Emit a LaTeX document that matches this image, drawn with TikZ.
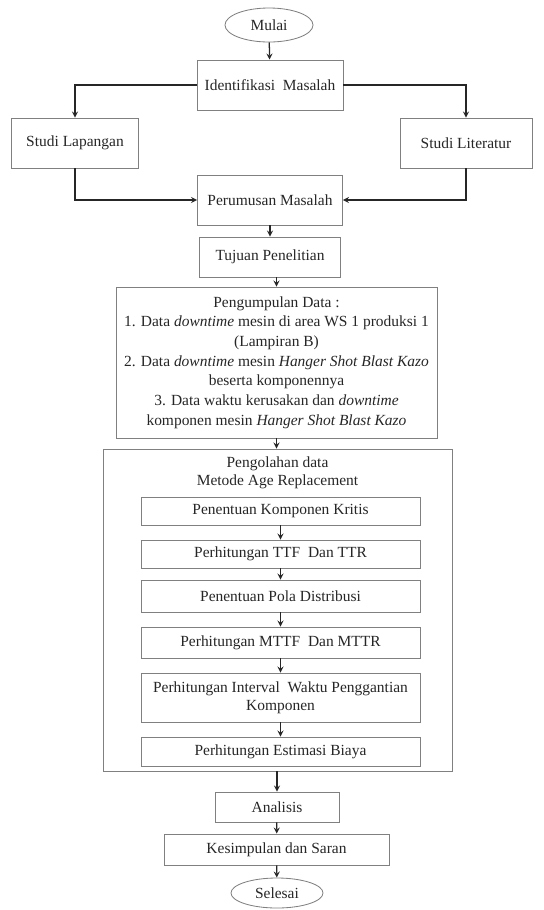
\documentclass[tikz,border=0pt]{standalone}
\usepackage{fontspec}
\setmainfont{Liberation Serif}
\usetikzlibrary{shapes.geometric,positioning}
\begin{document}
\begin{tikzpicture}[>=stealth, x=0.025cm, y=-0.025cm,
    kotak/.style={draw=black!50, line width=0.6pt, rectangle, align=center, inner sep=2pt,
        font=\fontsize{11}{14}\selectfont, text=black!85},
    terminal/.style={draw=black!50, line width=0.6pt, ellipse, inner sep=1pt,
        font=\fontsize{11}{14}\selectfont, text=black!85},
    panah/.style={->, line width=0.9pt, black!85}]
            \useasboundingbox (0,0) rectangle (544,910);
            % bagian atas
            \node[terminal, minimum width=2.2cm, minimum height=0.85cm] (mulai) at (269,25) {Mulai};
            \node[kotak, minimum width=3.65cm, minimum height=1.25cm] (identifikasi) at (270,85) {Identifikasi\ \ Masalah};
            \node[kotak, minimum width=3.175cm, minimum height=1.25cm] (lapangan) at (75,143) {Studi Lapangan};
            \node[kotak, minimum width=3.3cm, minimum height=1.25cm] (literatur) at (466,143) {Studi Literatur};
            \node[kotak, minimum width=3.625cm, minimum height=1.25cm] (perumusan) at (270,200) {Perumusan Masalah};
            \node[kotak, minimum width=3.525cm, minimum height=1cm] (tujuan) at (270,257) {Tujuan Penelitian};
            \node[kotak, minimum width=8.025cm, minimum height=3.775cm] (pengumpulan) at (276.5,362.5)
                {Pengumpulan Data :\\
                 1. Data \textit{downtime} mesin di area WS 1 produksi 1\\
                 (Lampiran B)\\
                 2. Data \textit{downtime} mesin \textit{Hanger Shot Blast Kazo}\\
                 beserta komponennya\\
                 3. Data waktu kerusakan dan \textit{downtime}\\
                 komponen mesin \textit{Hanger Shot Blast Kazo}};
            % pengolahan data
            \node[kotak, minimum width=8.725cm, minimum height=8.05cm] (olah) at (277.5,610) {};
            \node[below=2pt of olah.north, align=center, font=\fontsize{11}{12.8}\selectfont, text=black!85] (judul)
                {Pengolahan data\\Metode Age Replacement};
            \node[kotak, minimum width=6.975cm, minimum height=0.7cm] (kritis) at (280.5,511) {Penentuan Komponen Kritis};
            \node[kotak, minimum width=6.975cm, minimum height=0.7cm] (ttf) at (280.5,554) {Perhitungan TTF\ \ Dan TTR};
            \node[kotak, minimum width=6.975cm, minimum height=0.8cm] (pola) at (280.5,596) {Penentuan Pola Distribusi};
            \node[kotak, minimum width=6.975cm, minimum height=0.775cm] (mttf) at (280.5,642.5) {Perhitungan MTTF\ \ Dan MTTR};
            \node[kotak, minimum width=6.975cm, minimum height=1.225cm, font=\fontsize{11}{12.8}\selectfont] (interval) at (280.5,697.5)
                {Perhitungan Interval\ \ Waktu Penggantian\\Komponen};
            \node[kotak, minimum width=6.975cm, minimum height=0.725cm] (biaya) at (280.5,751.5) {Perhitungan Estimasi Biaya};
            % bagian bawah
            \node[kotak, minimum width=3.1cm, minimum height=0.75cm] (analisis) at (277,807) {Analisis};
            \node[kotak, minimum width=5.625cm, minimum height=0.775cm] (kesimpulan) at (276.5,849.5) {Kesimpulan dan Saran};
            \node[terminal, minimum width=2.3cm, minimum height=0.75cm] (selesai) at (277,893) {Selesai};
            % panah
            \draw[panah] (mulai) -- (identifikasi);
            \draw[panah] (identifikasi.west) -| (lapangan.north);
            \draw[panah] (identifikasi.east) -| (literatur.north);
            \draw[panah] (lapangan.south) |- (perumusan.west);
            \draw[panah] (literatur.south) |- (perumusan.east);
            \draw[panah] (perumusan) -- (tujuan);
            \draw[panah] (tujuan.south -| pengumpulan.north) -- (pengumpulan.north);
            \draw[panah] (pengumpulan.south) -- (pengumpulan.south |- olah.north);
            \draw[panah] (kritis) -- (ttf);
            \draw[panah] (ttf) -- (pola);
            \draw[panah] (pola) -- (mttf);
            \draw[panah] (mttf) -- (interval);
            \draw[panah] (interval) -- (biaya);
            \draw[panah] (olah.south -| analisis.north) -- (analisis.north);
            \draw[panah] (analisis) -- (kesimpulan);
            \draw[panah] (kesimpulan) -- (selesai);
        \end{tikzpicture}
\end{document}
